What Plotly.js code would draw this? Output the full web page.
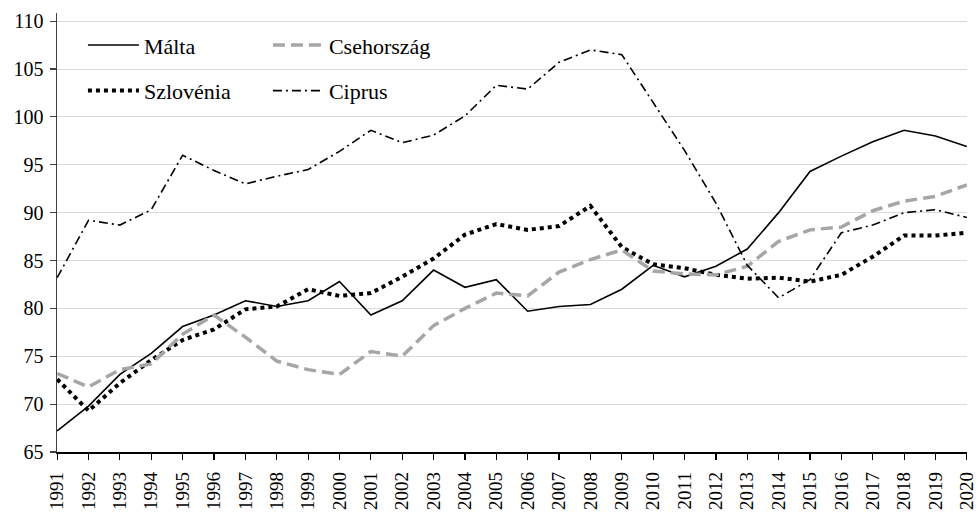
<!DOCTYPE html>
<html>
<head>
<meta charset="utf-8">
<script src="https://cdn.plot.ly/plotly-3.0.1.min.js"></script>
<style>html,body{margin:0;padding:0;background:#fff}#chart{width:978px;height:512px}</style>
</head>
<body>
<div id="chart"></div>
<script>
const years = [1991,1992,1993,1994,1995,1996,1997,1998,1999,2000,2001,2002,2003,2004,2005,2006,2007,2008,2009,2010,2011,2012,2013,2014,2015,2016,2017,2018,2019,2020];
const malta = [67.2,69.8,73.1,75.3,78.1,79.3,80.8,80.2,80.8,82.8,79.3,80.8,84.0,82.2,83.0,79.7,80.2,80.4,82.0,84.5,83.3,84.4,86.2,90.0,94.3,95.9,97.4,98.6,98.0,96.9];
const csehorszag = [73.2,71.8,73.6,74.2,77.3,79.3,77.0,74.5,73.6,73.1,75.5,75.0,78.2,80.0,81.6,81.3,83.8,85.1,86.1,83.9,83.6,83.5,84.4,87.0,88.2,88.5,90.2,91.2,91.7,92.9];
const szlovenia = [72.6,69.3,72.2,74.6,76.7,77.8,79.9,80.2,82.0,81.3,81.6,83.3,85.2,87.7,88.8,88.2,88.6,90.7,86.4,84.6,84.2,83.5,83.1,83.2,82.8,83.5,85.4,87.6,87.6,87.9];
const ciprus = [83.2,89.2,88.7,90.3,96.0,94.4,93.0,93.8,94.5,96.4,98.6,97.3,98.1,100.1,103.3,102.9,105.7,107.0,106.5,101.5,96.5,91.0,84.5,81.1,83.0,87.9,88.7,90.0,90.3,89.5];
const seriesNames = ['Málta','Csehország','Szlovénia','Ciprus'];
const yTicks = [65,70,75,80,85,90,95,100,105,110];

const FONT = 'Liberation Serif, DejaVu Serif, serif';

const traces = [
  {x: years, y: malta, name: seriesNames[0], type: 'scatter', mode: 'lines',
   line: {color: '#000000', width: 1.6}, legend: 'legend', legendgroup: 'a'},
  {x: years, y: szlovenia, name: seriesNames[2], type: 'scatter', mode: 'lines',
   line: {color: '#000000', width: 4, dash: 'dot'}, legend: 'legend', legendgroup: 'b'},
  {x: years, y: csehorszag, name: seriesNames[1], type: 'scatter', mode: 'lines',
   line: {color: '#a6a6a6', width: 3.5, dash: '12px,6px'}, legend: 'legend2', legendgroup: 'c'},
  {x: years, y: ciprus, name: seriesNames[3], type: 'scatter', mode: 'lines',
   line: {color: '#000000', width: 1.6, dash: '9px,4px,2px,4px'}, legend: 'legend2', legendgroup: 'd'}
];

const legendCommon = {
  font: {family: FONT, size: 22, color: '#000'},
  bgcolor: 'rgba(0,0,0,0)', borderwidth: 0,
  orientation: 'v', traceorder: 'grouped', tracegroupgap: 14,
  itemwidth: 51, yanchor: 'top', xanchor: 'left'
};

const layout = {
  width: 978, height: 512,
  margin: {l: 57, r: 11, t: 13, b: 60, pad: 0},
  paper_bgcolor: '#ffffff', plot_bgcolor: '#ffffff',
  font: {family: FONT, size: 20, color: '#000'},
  showlegend: true,
  legend: Object.assign({}, legendCommon, {x: 0.0285, y: 0.9745}),
  legend2: Object.assign({}, legendCommon, {x: 0.2318, y: 0.9745}),
  xaxis: {
    range: [1990.995, 2020.005], tickmode: 'array', tickvals: years, ticktext: years.map(String),
    tickangle: -90, ticks: 'outside', ticklen: 6, tickcolor: '#000', tickwidth: 1.2,
    ticklabelstandoff: 5, ticklabeloverflow: 'allow', automargin: false,
    showline: true, linecolor: '#000', linewidth: 1.5, showgrid: false, zeroline: false,
    tickfont: {family: FONT, size: 19, color: '#000'}
  },
  yaxis: {
    range: [65, 110.85], tickmode: 'array', tickvals: yTicks,
    ticks: 'outside', ticklen: 6, tickcolor: '#404040', tickwidth: 1.2,
    ticklabelstandoff: 2,
    showline: true, linecolor: '#404040', linewidth: 1.5,
    showgrid: true, gridcolor: '#d9d9d9', gridwidth: 1, zeroline: false,
    tickfont: {family: FONT, size: 20, color: '#000'}
  }
};

Plotly.newPlot('chart', traces, layout, {displayModeBar: false, staticPlot: true});
</script>
</body>
</html>
